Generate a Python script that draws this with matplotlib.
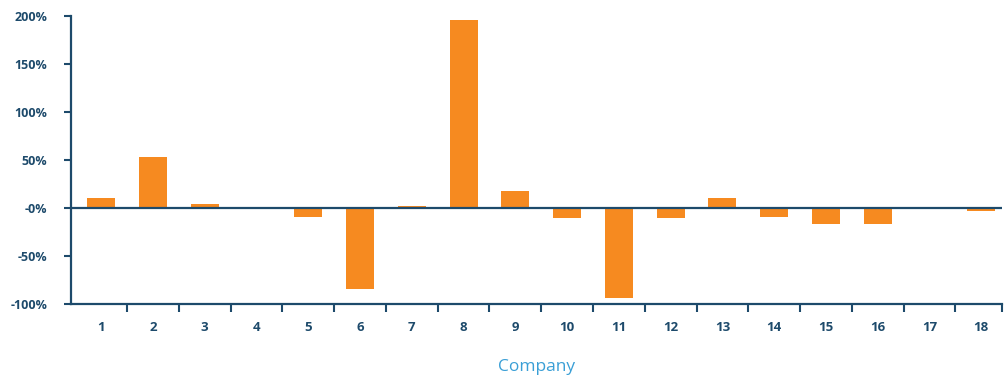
import numpy as np
import matplotlib.pyplot as plt
from matplotlib.ticker import FixedLocator

# Change per company, in percent
companies = [str(i) for i in range(1, 19)]
change = [10, 53, 4, 0, -9, -84, 2, 196, 18, -11,
          -94, -10, 10, -9, -17, -17, 0, -3]
yticks = [-100, -50, 0, 50, 100, 150, 200]
ylabels = ['-100%', '-50%', '-0%', '50%', '100%', '150%', '200%']

navy = '#1d4a6b'
orange = '#f68a20'

plt.rcParams['font.family'] = ['Open Sans', 'DejaVu Sans']

fig = plt.figure(figsize=(10.08, 3.78), dpi=100)
ax = fig.add_axes([0.0705, 0.196, 0.9236, 0.762])

x = np.arange(len(companies))
right = len(companies) - 0.6
ax.bar(x, change, width=0.54, color=orange, zorder=2)
ax.axhline(0, color=navy, lw=1.6, zorder=3)

ax.set_xlim(-0.58, right)
ax.set_ylim(-100, 200)

ax.set_yticks(yticks)
ax.set_yticklabels(ylabels, fontsize=9, fontweight='bold', color=navy)

# labels sit under each bar, ticks between categories and at the axis end
ax.set_xticks(x)
ax.set_xticklabels(companies, fontsize=9.5, fontweight='bold', color=navy)
minor = list(np.arange(0.5, len(companies) - 1, 1)) + [right]
ax.xaxis.set_minor_locator(FixedLocator(minor))
ax.tick_params(axis='x', which='major', length=0, pad=12)
ax.tick_params(axis='x', which='minor', length=6, width=1.5, color=navy, direction='out')
ax.tick_params(axis='y', length=5, width=1.5, color=navy, direction='out', pad=12)

for side in ['top', 'right']:
    ax.spines[side].set_visible(False)
for side in ['left', 'bottom']:
    ax.spines[side].set_color(navy)
    ax.spines[side].set_linewidth(1.6)

ax.set_xlabel('Company', fontsize=12.5, color='#3a9fd6', labelpad=18)

fig.savefig('out.png', dpi=100)
